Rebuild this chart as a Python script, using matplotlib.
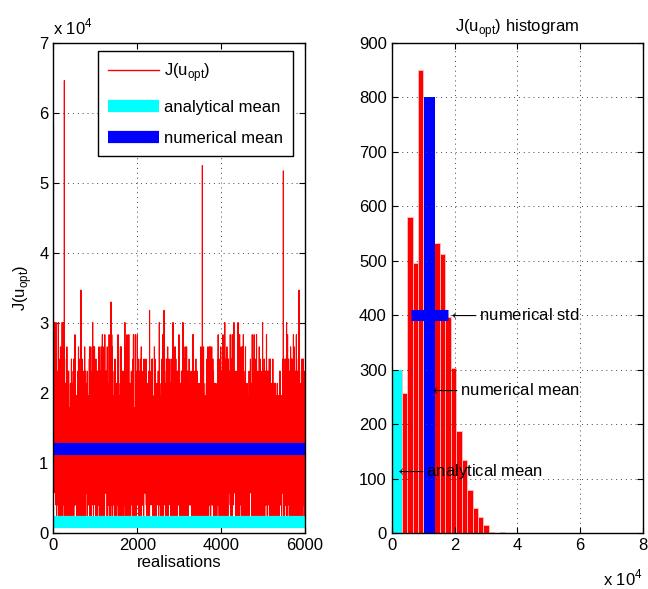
import numpy as np
import matplotlib.pyplot as plt
from matplotlib.ticker import FuncFormatter

plt.rcParams['font.family'] = ['Liberation Sans', 'DejaVu Sans']
plt.rcParams['mathtext.fontset'] = 'custom'
plt.rcParams['mathtext.rm'] = 'Liberation Sans'
plt.rcParams['font.size'] = 12

# Histogram bins (uniform bins)
hist_start = 1440
hist_width = 1735
n_bins = 37
# counts of the main body of the distribution (first 18 bins)
main_counts = [300, 258, 581, 495, 850, 562, 708, 533, 512, 396,
               303, 188, 135, 79, 46, 29, 16, 2]

# isolated spikes in the realisation series (index, value)
spike_idx = [3, 262, 660, 1375, 3552, 5483, 5857]
spike_val = [58000, 64600, 34700, 33000, 52450, 51700, 34700]

n_real = 6000
analytical_mean = 1550
numerical_mean = 12050
numerical_std = 5900
mean_bar_heights = [300, 800]
std_level = 400

# Rebuild the realisations from the histogram counts
edges = hist_start + hist_width * np.arange(n_bins + 1)
centers = edges[:len(main_counts)] + hist_width / 2
samples = np.repeat(centers, main_counts)
n = len(samples)

# fixed hashed ordering of the samples along the realisation axis
k = (np.arange(n, dtype=np.uint64) * np.uint64(0x9E3779B1)) & np.uint64(0xFFFFFFFF)
k ^= k >> np.uint64(15)
k = (k * np.uint64(0x85EBCA6B)) & np.uint64(0xFFFFFFFF)
k ^= k >> np.uint64(13)
samples = samples[np.argsort(k, kind='stable')]

series = np.empty(n_real)
mask = np.zeros(n_real, dtype=bool)
mask[spike_idx] = True
series[mask] = spike_val
series[~mask] = samples

counts, _ = np.histogram(series, edges)

fig = plt.figure(figsize=(6.48, 5.89), dpi=100)
ax1 = fig.add_axes([0.0823, 0.0946, 0.3884, 0.833])
ax2 = fig.add_axes([0.6045, 0.0946, 0.3878, 0.833])

grid_kw = dict(color='#444444', linestyle=(0, (1, 4)), linewidth=0.7)

# Left: realisations
ax1.plot(np.arange(1, n_real + 1), series, color='red', lw=0.8,
         label='J(u$_\\mathregular{opt}$)')
ax1.plot([0, n_real], [analytical_mean] * 2, color='cyan', lw=8.8,
         solid_capstyle='butt', label='analytical mean')
ax1.plot([0, n_real], [numerical_mean] * 2, color='blue', lw=8.8,
         solid_capstyle='butt', label='numerical mean')
ax1.set_xlim(0, n_real)
ax1.set_ylim(0, 70000)
ax1.set_xticks([0, 2000, 4000, 6000])
ax1.set_yticks(np.arange(0, 70001, 10000))
ax1.yaxis.set_major_formatter(FuncFormatter(lambda v, p: '%d' % round(v / 1e4)))
ax1.grid(True, **grid_kw)
ax1.set_xlabel('realisations', labelpad=1)
ax1.set_ylabel('J(u$_\\mathregular{opt}$)', labelpad=4)
ax1.text(0.0, 1.01, 'x 10$^\\mathregular{4}$', transform=ax1.transAxes, ha='left', va='bottom')
leg = ax1.legend(loc='upper right', bbox_to_anchor=(0.952, 0.983), borderaxespad=0,
                 fancybox=False, framealpha=1, edgecolor='black', handlelength=3.05,
                 handletextpad=0.3, labelspacing=0.95, borderpad=0.6)
leg.get_frame().set_linewidth(1.0)
leg.get_lines()[0].set_linewidth(1.0)

# Right: histogram
ax2.bar(edges[:-1], counts, width=hist_width, align='edge', color='red',
        edgecolor='#ffc4c4', linewidth=0.6)
ax2.bar([analytical_mean, numerical_mean], mean_bar_heights, width=3400,
        color=['cyan', 'blue'], linewidth=0)
ax2.plot([numerical_mean - numerical_std, numerical_mean + numerical_std],
         [std_level, std_level], color='blue', lw=8, solid_capstyle='butt')
ax2.text(analytical_mean - 700, 113, '$\\longleftarrow$analytical mean', ha='left', va='center')
ax2.text(numerical_mean - 600, 262, '$\\longleftarrow$numerical mean', ha='left', va='center')
ax2.text(numerical_mean + numerical_std - 300, std_level, '$\\longleftarrow$numerical std',
         ha='left', va='center')
ax2.set_xlim(0, 80000)
ax2.set_ylim(0, 900)
ax2.set_xticks(np.arange(0, 80001, 20000))
ax2.set_yticks(np.arange(0, 901, 100))
ax2.xaxis.set_major_formatter(FuncFormatter(lambda v, p: '%d' % round(v / 1e4)))
ax2.grid(True, **grid_kw)
ax2.set_title('J(u$_\\mathregular{opt}$) histogram', fontsize=12, pad=8)
ax2.text(1.0, -0.07, 'x 10$^\\mathregular{4}$', transform=ax2.transAxes, ha='right', va='top')

for ax in (ax1, ax2):
    ax.tick_params(direction='in', top=True, right=True, length=4, width=0.8)
    for s in ax.spines.values():
        s.set_linewidth(1.0)

fig.savefig('out.png', dpi=100)
